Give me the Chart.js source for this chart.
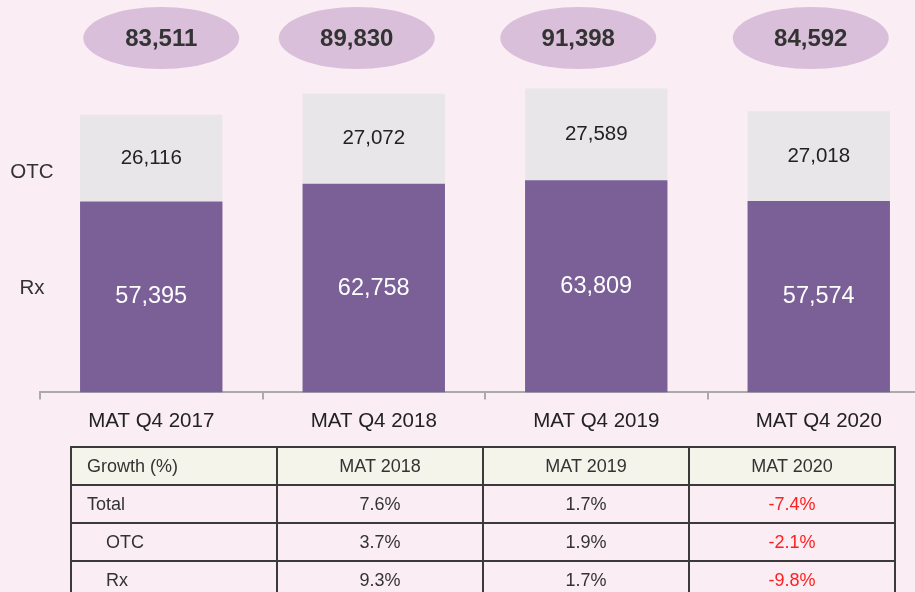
<!DOCTYPE html>
<html>
<head>
<meta charset="utf-8">
<script src="https://cdn.jsdelivr.net/npm/chart.js@4.4.0/dist/chart.umd.min.js"></script>
<style>
  html, body { margin: 0; padding: 0; background: #faedf4; overflow: hidden; width: 915px; height: 592px; }
  body { font-family: Arial, "Liberation Sans", sans-serif; position: relative; }
  #wrap { position: absolute; left: 0; top: 0; width: 930px; height: 450px; }
  table { position: absolute; left: 70px; top: 446px; border-collapse: collapse; font-size: 18px; color: #333; }
  td { border: 2px solid #3a3a3a; height: 36px; padding: 0; text-align: center; width: 204px; }
  tr.head td { background: #f4f4ea; }
  td.first { text-align: left; padding-left: 15px; width: 189px; }
  td.indent { padding-left: 34px; width: 170px; }
  .neg { color: #ff2020; }
</style>
</head>
<body>
<div id="wrap"><canvas id="barChart"></canvas></div>
<table id="growth"></table>
<script>
const categories = ['MAT Q4 2017', 'MAT Q4 2018', 'MAT Q4 2019', 'MAT Q4 2020'];
const rxValues = [57395, 62758, 63809, 57574];
const otcValues = [26116, 27072, 27589, 27018];
const totals = [83511, 89830, 91398, 84592];

const growthHeader = ['Growth (%)', 'MAT 2018', 'MAT 2019', 'MAT 2020'];
const growthRows = ['Total', 'OTC', 'Rx'];
const growthTotal = [7.6, 1.7, -7.4];
const growthOtc = [3.7, 1.9, -2.1];
const growthRx = [9.3, 1.7, -9.8];

// ellipse placement tweaks (layout only)
const ellipseShift = [10, -17, -18, -8];

const fmt = v => v.toLocaleString('en-US');
const FONT = 'Arial, "Liberation Sans", sans-serif';

const labelPlugin = {
  id: 'labels',
  afterDatasetsDraw(chart) {
    const ctx = chart.ctx;
    ctx.save();
    ctx.textAlign = 'center';
    ctx.textBaseline = 'middle';
    chart.data.datasets.forEach((ds, i) => {
      chart.getDatasetMeta(i).data.forEach((bar, j) => {
        const y = (bar.y + bar.base) / 2;
        ctx.fillStyle = i === 0 ? '#ffffff' : '#222222';
        ctx.font = (i === 0 ? '23.5px ' : '20.5px ') + FONT;
        ctx.fillText(fmt(ds.data[j]), bar.x, y);
      });
    });
    // totals in ellipses
    const xs = chart.scales.x;
    totals.forEach((t, j) => {
      const cx = xs.getPixelForValue(j) + ellipseShift[j];
      const cy = 38;
      ctx.fillStyle = '#d9bfda';
      ctx.beginPath();
      ctx.ellipse(cx, cy, 78, 31, 0, 0, Math.PI * 2);
      ctx.fill();
      ctx.fillStyle = '#333333';
      ctx.font = 'bold 24px ' + FONT;
      ctx.fillText(fmt(t), cx, cy + 1);
    });
    // series names on the left
    ctx.fillStyle = '#333333';
    ctx.font = '20.5px ' + FONT;
    ctx.fillText('OTC', 32, 172);
    ctx.fillText('Rx', 32, 288);
    ctx.restore();
  }
};

new Chart(document.getElementById('barChart').getContext('2d'), {
  type: 'bar',
  data: {
    labels: categories,
    datasets: [{
      label: 'Rx',
      data: rxValues,
      backgroundColor: '#7a6096'
    }, {
      label: 'OTC',
      data: otcValues,
      backgroundColor: '#e8e6e8'
    }]
  },
  options: {
    responsive: true,
    maintainAspectRatio: false,
    animation: false,
    layout: { padding: { top: 60, left: 40, right: 0, bottom: 6 } },
    datasets: { bar: { categoryPercentage: 1, barPercentage: 0.64 } },
    plugins: { legend: { display: false }, tooltip: { enabled: false } },
    scales: {
      x: {
        stacked: true,
        grid: { drawOnChartArea: false, color: '#aaaaaa', tickLength: 7, lineWidth: 2 },
        border: { color: '#aaaaaa', width: 2 },
        ticks: { color: '#222222', padding: 10, font: { size: 20.5, family: FONT } }
      },
      y: { stacked: true, display: false, min: 0, max: 100000 }
    }
  },
  plugins: [labelPlugin]
});

const table = document.getElementById('growth');
const head = document.createElement('tr');
head.className = 'head';
growthHeader.forEach((h, i) => {
  const td = document.createElement('td');
  td.textContent = h;
  if (i === 0) td.className = 'first';
  head.appendChild(td);
});
table.appendChild(head);
[growthTotal, growthOtc, growthRx].forEach((vals, r) => {
  const tr = document.createElement('tr');
  const name = document.createElement('td');
  name.textContent = growthRows[r];
  name.className = r === 0 ? 'first' : 'first indent';
  tr.appendChild(name);
  vals.forEach(v => {
    const td = document.createElement('td');
    td.textContent = v.toFixed(1) + '%';
    if (v < 0) td.className = 'neg';
    tr.appendChild(td);
  });
  table.appendChild(tr);
});
</script>
</body>
</html>
